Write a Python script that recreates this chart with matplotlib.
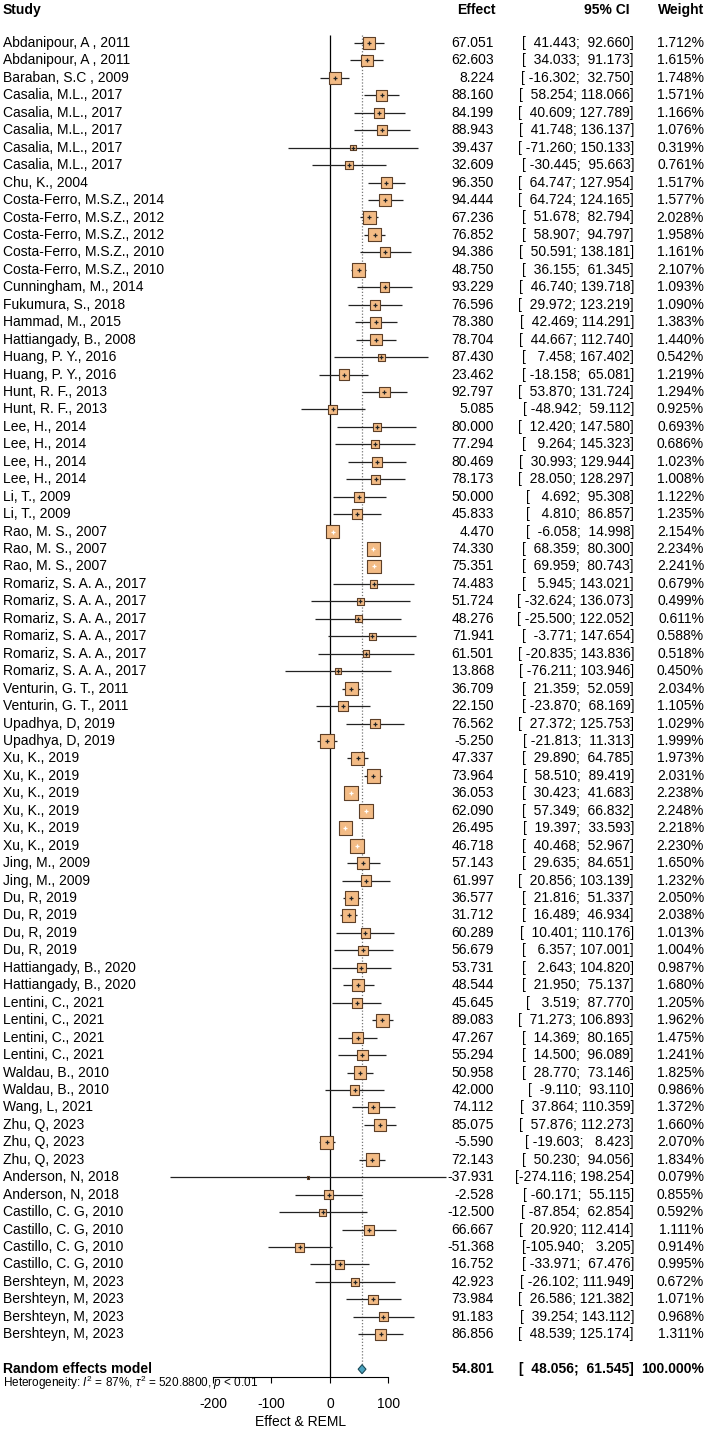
import numpy as np
import matplotlib.pyplot as plt
import matplotlib.transforms as mtransforms

plt.rcParams['font.family'] = ['Liberation Sans', 'DejaVu Sans']
plt.rcParams['mathtext.fontset'] = 'custom'
plt.rcParams['mathtext.rm'] = 'Liberation Sans'
plt.rcParams['mathtext.it'] = 'Liberation Sans:italic'

studies = ["Abdanipour, A , 2011", "Abdanipour, A , 2011", "Baraban, S.C , 2009",
           "Casalia, M.L., 2017", "Casalia, M.L., 2017", "Casalia, M.L., 2017",
           "Casalia, M.L., 2017", "Casalia, M.L., 2017", "Chu, K., 2004",
           "Costa-Ferro, M.S.Z., 2014", "Costa-Ferro, M.S.Z., 2012", "Costa-Ferro, M.S.Z., 2012",
           "Costa-Ferro, M.S.Z., 2010", "Costa-Ferro, M.S.Z., 2010", "Cunningham, M., 2014",
           "Fukumura, S., 2018", "Hammad, M., 2015", "Hattiangady, B., 2008",
           "Huang, P. Y., 2016", "Huang, P. Y., 2016", "Hunt, R. F., 2013", "Hunt, R. F., 2013",
           "Lee, H., 2014", "Lee, H., 2014", "Lee, H., 2014", "Lee, H., 2014",
           "Li, T., 2009", "Li, T., 2009", "Rao, M. S., 2007", "Rao, M. S., 2007", "Rao, M. S., 2007",
           "Romariz, S. A. A., 2017", "Romariz, S. A. A., 2017", "Romariz, S. A. A., 2017",
           "Romariz, S. A. A., 2017", "Romariz, S. A. A., 2017", "Romariz, S. A. A., 2017",
           "Venturin, G. T., 2011", "Venturin, G. T., 2011", "Upadhya, D, 2019", "Upadhya, D, 2019",
           "Xu, K., 2019", "Xu, K., 2019", "Xu, K., 2019", "Xu, K., 2019", "Xu, K., 2019", "Xu, K., 2019",
           "Jing, M., 2009", "Jing, M., 2009", "Du, R, 2019", "Du, R, 2019", "Du, R, 2019", "Du, R, 2019",
           "Hattiangady, B., 2020", "Hattiangady, B., 2020", "Lentini, C., 2021", "Lentini, C., 2021",
           "Lentini, C., 2021", "Lentini, C., 2021", "Waldau, B., 2010", "Waldau, B., 2010",
           "Wang, L, 2021", "Zhu, Q, 2023", "Zhu, Q, 2023", "Zhu, Q, 2023",
           "Anderson, N, 2018", "Anderson, N, 2018", "Castillo, C. G, 2010", "Castillo, C. G, 2010",
           "Castillo, C. G, 2010", "Castillo, C. G, 2010", "Bershteyn, M, 2023", "Bershteyn, M, 2023",
           "Bershteyn, M, 2023", "Bershteyn, M, 2023"]

effect = [67.051, 62.603, 8.224, 88.160, 84.199, 88.943, 39.437, 32.609, 96.350, 94.444,
          67.236, 76.852, 94.386, 48.750, 93.229, 76.596, 78.380, 78.704, 87.430, 23.462,
          92.797, 5.085, 80.000, 77.294, 80.469, 78.173, 50.000, 45.833, 4.470, 74.330,
          75.351, 74.483, 51.724, 48.276, 71.941, 61.501, 13.868, 36.709, 22.150, 76.562,
          -5.250, 47.337, 73.964, 36.053, 62.090, 26.495, 46.718, 57.143, 61.997, 36.577,
          31.712, 60.289, 56.679, 53.731, 48.544, 45.645, 89.083, 47.267, 55.294, 50.958,
          42.000, 74.112, 85.075, -5.590, 72.143, -37.931, -2.528, -12.500, 66.667, -51.368,
          16.752, 42.923, 73.984, 91.183, 86.856]

lower = [41.443, 34.033, -16.302, 58.254, 40.609, 41.748, -71.260, -30.445, 64.747, 64.724,
         51.678, 58.907, 50.591, 36.155, 46.740, 29.972, 42.469, 44.667, 7.458, -18.158,
         53.870, -48.942, 12.420, 9.264, 30.993, 28.050, 4.692, 4.810, -6.058, 68.359,
         69.959, 5.945, -32.624, -25.500, -3.771, -20.835, -76.211, 21.359, -23.870, 27.372,
         -21.813, 29.890, 58.510, 30.423, 57.349, 19.397, 40.468, 29.635, 20.856, 21.816,
         16.489, 10.401, 6.357, 2.643, 21.950, 3.519, 71.273, 14.369, 14.500, 28.770,
         -9.110, 37.864, 57.876, -19.603, 50.230, -274.116, -60.171, -87.854, 20.920, -105.940,
         -33.971, -26.102, 26.586, 39.254, 48.539]

upper = [92.660, 91.173, 32.750, 118.066, 127.789, 136.137, 150.133, 95.663, 127.954, 124.165,
         82.794, 94.797, 138.181, 61.345, 139.718, 123.219, 114.291, 112.740, 167.402, 65.081,
         131.724, 59.112, 147.580, 145.323, 129.944, 128.297, 95.308, 86.857, 14.998, 80.300,
         80.743, 143.021, 136.073, 122.052, 147.654, 143.836, 103.946, 52.059, 68.169, 125.753,
         11.313, 64.785, 89.419, 41.683, 66.832, 33.593, 52.967, 84.651, 103.139, 51.337,
         46.934, 110.176, 107.001, 104.820, 75.137, 87.770, 106.893, 80.165, 96.089, 73.146,
         93.110, 110.359, 112.273, 8.423, 94.056, 198.254, 55.115, 62.854, 112.414, 3.205,
         67.476, 111.949, 121.382, 143.112, 125.174]

weight = [1.712, 1.615, 1.748, 1.571, 1.166, 1.076, 0.319, 0.761, 1.517, 1.577,
          2.028, 1.958, 1.161, 2.107, 1.093, 1.090, 1.383, 1.440, 0.542, 1.219,
          1.294, 0.925, 0.693, 0.686, 1.023, 1.008, 1.122, 1.235, 2.154, 2.234,
          2.241, 0.679, 0.499, 0.611, 0.588, 0.518, 0.450, 2.034, 1.105, 1.029,
          1.999, 1.973, 2.031, 2.238, 2.248, 2.218, 2.230, 1.650, 1.232, 2.050,
          2.038, 1.013, 1.004, 0.987, 1.680, 1.205, 1.962, 1.475, 1.241, 1.825,
          0.986, 1.372, 1.660, 2.070, 1.834, 0.079, 0.855, 0.592, 1.111, 0.914,
          0.995, 0.672, 1.071, 0.968, 1.311]

re_est, re_lo, re_hi = 54.801, 48.056, 61.545
xticks = [-200, -100, 0, 100]

W, H = 709, 1429
px_per_unit = 0.585
x0_px = 330
row0_px, row_px = 43, 17.45
fs = 10

n = len(studies)
rows = np.arange(n)
re_row = n + 1

fig = plt.figure(figsize=(W / 100, H / 100), dpi=100)
ax = fig.add_axes([0, 0, 1, 1])
ax.set_xlim(-x0_px / px_per_unit, (W - x0_px) / px_per_unit)
ax.set_ylim((H - row0_px) / row_px, -row0_px / row_px)
ax.set_yticks([])
for s in ['top', 'left', 'right']:
    ax.spines[s].set_visible(False)
axis_row = re_row + 0.42
ax.spines['bottom'].set_position(('data', axis_row))
ax.spines['bottom'].set_bounds(xticks[0], xticks[-1])
ax.spines['bottom'].set_linewidth(0.8)
ax.set_xticks(xticks)
ax.set_xticklabels([str(t) for t in xticks])
ax.tick_params(axis='x', direction='out', length=4.3, width=0.8, pad=10.5, labelsize=fs)
ax.patch.set_alpha(0)

# reference lines
ax.vlines(0, -0.45, axis_row, color='black', lw=0.9, zorder=1)
ax.vlines(re_est, -0.45, re_row - 0.25, color='#777777', lw=0.9,
          linestyles=(0, (1, 1.5)), zorder=1)

# confidence intervals and boxes
ax.hlines(rows, lower, upper, color='#222222', lw=0.9, zorder=2)
w = np.array(weight)
side_px = 14 * np.sqrt(w / w.max())
face = np.where(side_px < 4, '#111111', '#f3bb85')
ax.scatter(effect, rows, s=45 * w, marker='s', facecolor=face,
           edgecolor='#5c3f28', linewidth=0.8, zorder=3)
half_ci_px = (np.array(upper) - np.array(lower)) / 2 * px_per_unit
inside = half_ci_px < side_px / 2
for i in range(n):
    c = 'white' if inside[i] else '#222222'
    if side_px[i] > 4:
        ax.plot(effect[i], rows[i], marker='+', ms=3.5, mew=0.9, color=c, zorder=4)

# summary diamond
dh = 0.26
ax.fill([re_lo, re_est, re_hi, re_est], [re_row, re_row - dh, re_row, re_row + dh],
        facecolor='#4aa3bf', edgecolor='#1c4a58', lw=0.8, zorder=4)

# text columns
tr = mtransforms.blended_transform_factory(ax.transAxes, ax.transData)
hdr_row = -1.89
ax.text(3 / W, hdr_row, "Study", transform=tr, ha='left', va='center', fontsize=fs, weight='bold')
ax.text(496 / W, hdr_row, "Effect", transform=tr, ha='right', va='center', fontsize=fs, weight='bold')
ax.text(630 / W, hdr_row, "95% CI", transform=tr, ha='right', va='center', fontsize=fs, weight='bold')
ax.text(704 / W, hdr_row, "Weight", transform=tr, ha='right', va='center', fontsize=fs, weight='bold')


def row_text(r, name, est, lo, hi, wt, bold=False):
    kw = dict(transform=tr, va='center', fontsize=fs, weight='bold' if bold else 'normal')
    ax.text(3 / W, r, name, ha='left', **kw)
    ax.text(494 / W, r, f"{est:.3f}", ha='right', **kw)
    ci = "[" + f"{lo:.3f}".rjust(8) + "; " + f"{hi:.3f}".rjust(7) + "]"
    ax.text(634 / W, r, ci, ha='right', **kw)
    ax.text(704 / W, r, f"{wt:.3f}%", ha='right', **kw)


for i in range(n):
    row_text(rows[i], studies[i], effect[i], lower[i], upper[i], weight[i])
row_text(re_row, "Random effects model", re_est, re_lo, re_hi, 100.0, bold=True)

ax.text(3 / W, re_row + 0.8,
        r"Heterogeneity: $I^2$ = 87%, $\tau^2$ = 520.8800, $p$ < 0.01",
        transform=tr, ha='left', va='center', fontsize=8.5)
ax.text(-50, re_row + 3.0, "Effect & REML", ha='center', va='center', fontsize=fs)

fig.savefig("out.png", dpi=100)
